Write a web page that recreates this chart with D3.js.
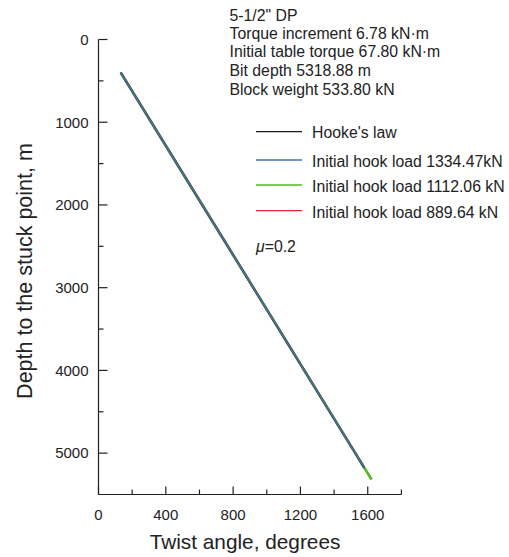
<!DOCTYPE html>
<html><head><meta charset="utf-8">
<script src="https://cdn.jsdelivr.net/npm/d3@7"></script>
<style>
html,body{margin:0;padding:0;background:#fff;}
svg{display:block;font-family:"Liberation Sans",Arial,sans-serif;}
</style></head><body>
<svg id="c" width="509" height="557"></svg>
<script>
// ---- data ----
const depthMain   = [400, 1000, 2000, 3000, 4000, 5000, 5180];
const depthGreen  = [400, 1000, 2000, 3000, 4000, 5000, 5318.88];
const hookeTwist  = [132, 314, 617, 920, 1223, 1526, 1580];
const hook1334    = [132, 314, 617, 920, 1223, 1526, 1580];
const hook1112    = [132, 314, 617, 920, 1223, 1526, 1623];
const hook889     = [132, 314, 617, 920, 1223, 1526, 1580];
const xMajorTicks = [0, 400, 800, 1200, 1600];
const xMinorTicks = [200, 600, 1000, 1400, 1800];
const yMajorTicks = [0, 1000, 2000, 3000, 4000, 5000];
const yMinorTicks = [500, 1500, 2500, 3500, 4500];
const infoLines = ["5-1/2\" DP", "Torque increment 6.78 kN\u00b7m", "Initial table torque 67.80 kN\u00b7m", "Bit depth 5318.88 m", "Block weight 533.80 kN"];
const legendNames = ["Hooke's law", "Initial hook load 1334.47kN", "Initial hook load 1112.06 kN", "Initial hook load 889.64 kN"];
const legendColors = ["#1a1a1a", "#4a70b8", "#4cbc1e", "#e8282c"];

const svg = d3.select("#c");
const pL = 98.5, pR = 401.4, pT = 39.5, pB = 494.5;
const x = d3.scaleLinear().domain([0, 1800]).range([pL, pR]);
const y = d3.scaleLinear().domain([0, 5500]).range([pT, pB]);

// series (drawn under-to-over)
const series = [
  {d: depthMain, t: hook889, c: legendColors[3], w: 2.6},
  {d: depthGreen, t: hook1112, c: legendColors[2], w: 2.6},
  {d: depthMain, t: hookeTwist, c: legendColors[0], w: 1.8},
  {d: depthMain, t: hook1334, c: legendColors[1], w: 1.6}
];
const line = d3.line().x(p => x(p[0])).y(p => y(p[1]));
series.forEach(s => {
  svg.append("path")
    .attr("d", line(s.t.map((v, i) => [v, s.d[i]])))
    .attr("fill", "none").attr("stroke", s.c).attr("stroke-width", s.w);
});

// axes
const ax = svg.append("g").attr("stroke", "#222").attr("stroke-width", 1.2);
ax.append("line").attr("x1", pL).attr("x2", pL).attr("y1", pT).attr("y2", pB);
ax.append("line").attr("x1", pL).attr("x2", pR).attr("y1", pB).attr("y2", pB);
yMajorTicks.forEach(v => ax.append("line").attr("x1", pL).attr("x2", pL + 9).attr("y1", y(v)).attr("y2", y(v)));
yMinorTicks.forEach(v => ax.append("line").attr("x1", pL).attr("x2", pL + 5).attr("y1", y(v)).attr("y2", y(v)));
xMajorTicks.forEach(v => ax.append("line").attr("x1", x(v)).attr("x2", x(v)).attr("y1", pB).attr("y2", pB - 8));
xMinorTicks.forEach(v => ax.append("line").attr("x1", x(v)).attr("x2", x(v)).attr("y1", pB).attr("y2", pB - 5));

const tc = "#222";
yMajorTicks.forEach(v => svg.append("text").attr("x", pL - 10).attr("y", y(v) + 5.3)
  .attr("text-anchor", "end").attr("font-size", 15).attr("fill", tc).text(v));
xMajorTicks.forEach(v => svg.append("text").attr("x", x(v)).attr("y", 519.5)
  .attr("text-anchor", "middle").attr("font-size", 15).attr("fill", tc).text(v));

svg.append("text").attr("x", 245).attr("y", 548.5).attr("text-anchor", "middle")
  .attr("font-size", 20.8).attr("fill", tc).text("Twist angle, degrees");
svg.append("text").attr("transform", "translate(32," + 271 + ") rotate(-90)").attr("text-anchor", "middle")
  .attr("font-size", 21.5).attr("fill", tc).text("Depth to the stuck point, m");

const infoY = [20.7, 38.6, 57, 76, 95];
infoLines.forEach((t, i) => svg.append("text").attr("x", 229.5).attr("y", infoY[i])
  .attr("font-size", 15.8).attr("fill", tc).text(t));

const legY = [131.7, 160, 185, 210.7];
const legTY = [138.3, 166.7, 191.7, 218.3];
legendNames.forEach((n, i) => {
  svg.append("line").attr("x1", 256).attr("x2", 302).attr("y1", legY[i]).attr("y2", legY[i])
    .attr("stroke", legendColors[i]).attr("stroke-width", 1.3);
  svg.append("text").attr("x", 312).attr("y", legTY[i]).attr("font-size", 15.8).attr("fill", tc).text(n);
});
const mu = svg.append("text").attr("x", 256).attr("y", 251.7).attr("font-size", 15.8).attr("fill", tc);
mu.append("tspan").attr("font-style", "italic").text("\u03bc");
mu.append("tspan").text("=0.2");
</script>
</body></html>
